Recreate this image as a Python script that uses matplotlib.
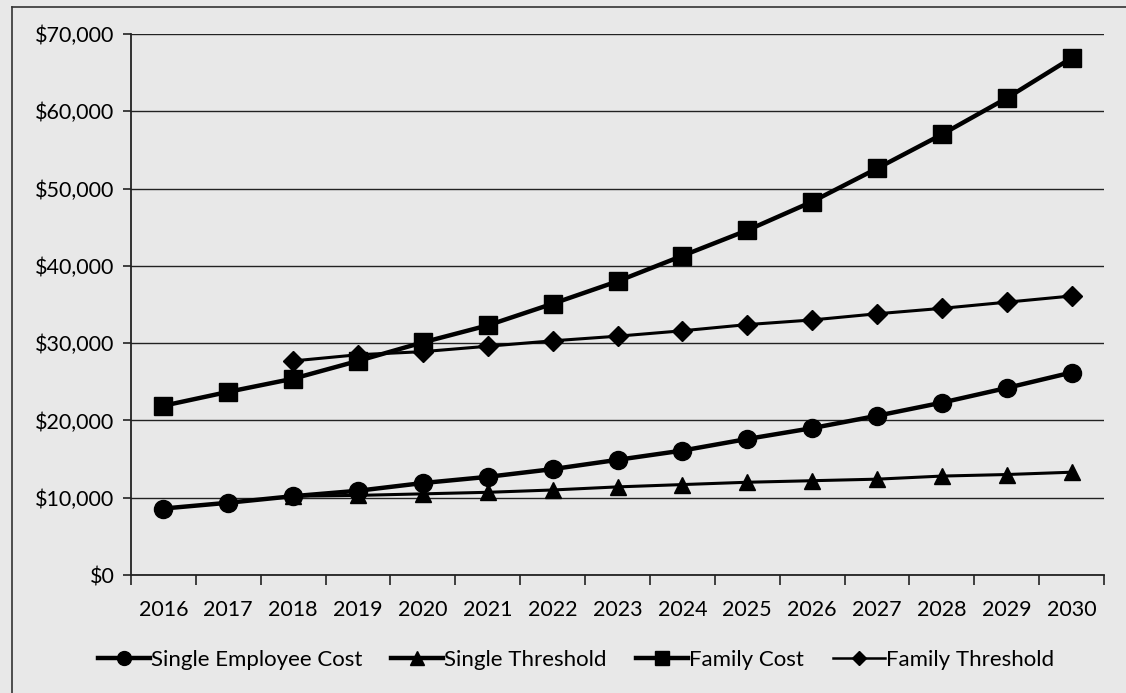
import matplotlib
matplotlib.use("Agg")
import matplotlib.pyplot as plt
from matplotlib.ticker import FuncFormatter, FixedLocator
from matplotlib.lines import Line2D

years = [str(y) for y in range(2016, 2031)]
single_cost = [8600, 9350, 10200, 10900, 11900, 12700, 13700, 14900, 16100, 17600, 19000, 20600, 22300, 24200, 26200]
single_threshold = [None, None, 10200, 10300, 10500, 10700, 11000, 11400, 11700, 12000, 12200, 12400, 12800, 13000, 13300]
family_cost = [21900, 23700, 25400, 27700, 30100, 32300, 35100, 38000, 41300, 44600, 48300, 52600, 57000, 61700, 66900]
family_threshold = [None, None, 27700, 28500, 28900, 29600, 30300, 30900, 31600, 32400, 33000, 33800, 34500, 35300, 36100]
yticks = [0, 10000, 20000, 30000, 40000, 50000, 60000, 70000]

plt.rcParams['font.family'] = ['Lato', 'DejaVu Sans']
bg = '#e8e8e8'
fig = plt.figure(figsize=(11.26, 6.93), dpi=100, facecolor=bg)
ax = fig.add_axes([131/1126, 1-575/693, (1104-131)/1126, (575-34)/693])
ax.set_facecolor(bg)

x = list(range(len(years)))
def series(vals):
    xs = [i for i, v in zip(x, vals) if v is not None]
    ys = [v for v in vals if v is not None]
    return xs, ys

xs, ys = series(single_threshold)
ax.plot(xs, ys, color='black', lw=2.2, marker='^', ms=12, label='Single Threshold', zorder=3)
xs, ys = series(family_threshold)
ax.plot(xs, ys, color='black', lw=2.2, marker='D', ms=10, label='Family Threshold', zorder=3)
xs, ys = series(single_cost)
ax.plot(xs, ys, color='black', lw=3.2, marker='o', ms=13, label='Single Employee Cost', zorder=4)
xs, ys = series(family_cost)
ax.plot(xs, ys, color='black', lw=3.2, marker='s', ms=13, label='Family Cost', zorder=4)

ax.set_xlim(-0.5, len(years) - 0.5)
ax.set_ylim(0, 70000)
ax.set_yticks(yticks)
ax.yaxis.set_major_formatter(FuncFormatter(lambda v, p: '${:,.0f}'.format(v)))
ax.grid(axis='y', color='#222222', lw=1.0)
ax.set_axisbelow(True)
ax.xaxis.set_major_locator(FixedLocator([i - 0.5 for i in range(len(years) + 1)]))
ax.xaxis.set_minor_locator(FixedLocator(x))
ax.set_xticklabels([''] * (len(years) + 1))
ax.set_xticklabels(years, minor=True)
ax.tick_params(axis='x', which='major', length=7, width=1.2, direction='out', color='#222222')
ax.tick_params(axis='x', which='minor', length=0, labelsize=15.5, pad=18)
ax.tick_params(axis='y', length=6, width=1.2, color='#222222', labelsize=15.5, pad=6)
for s in ['top', 'right']:
    ax.spines[s].set_visible(False)
for s in ['left', 'bottom']:
    ax.spines[s].set_color('#222222')
    ax.spines[s].set_linewidth(1.3)

leg_handles = [
    Line2D([], [], color='black', lw=3.2, marker='o', ms=10),
    Line2D([], [], color='black', lw=3.2, marker='^', ms=10),
    Line2D([], [], color='black', lw=3.2, marker='s', ms=10),
    Line2D([], [], color='black', lw=1.8, marker='D', ms=7),
]
leg_labels = ['Single Employee Cost', 'Single Threshold', 'Family Cost', 'Family Threshold']
leg = fig.legend(leg_handles, leg_labels, loc='center',
                 bbox_to_anchor=(0.5 + 13/1126, 1-660/693), ncol=4, frameon=False, fontsize=16,
                 handlelength=2.35, handletextpad=0.05, columnspacing=1.3)

fig.add_artist(Line2D([12/1126, 1], [1-7/693, 1-7/693], transform=fig.transFigure, color='#333333', lw=1.2))
fig.add_artist(Line2D([12/1126, 12/1126], [0, 1-7/693], transform=fig.transFigure, color='#333333', lw=1.2))
fig.savefig('out.png', dpi=100, facecolor=bg)
